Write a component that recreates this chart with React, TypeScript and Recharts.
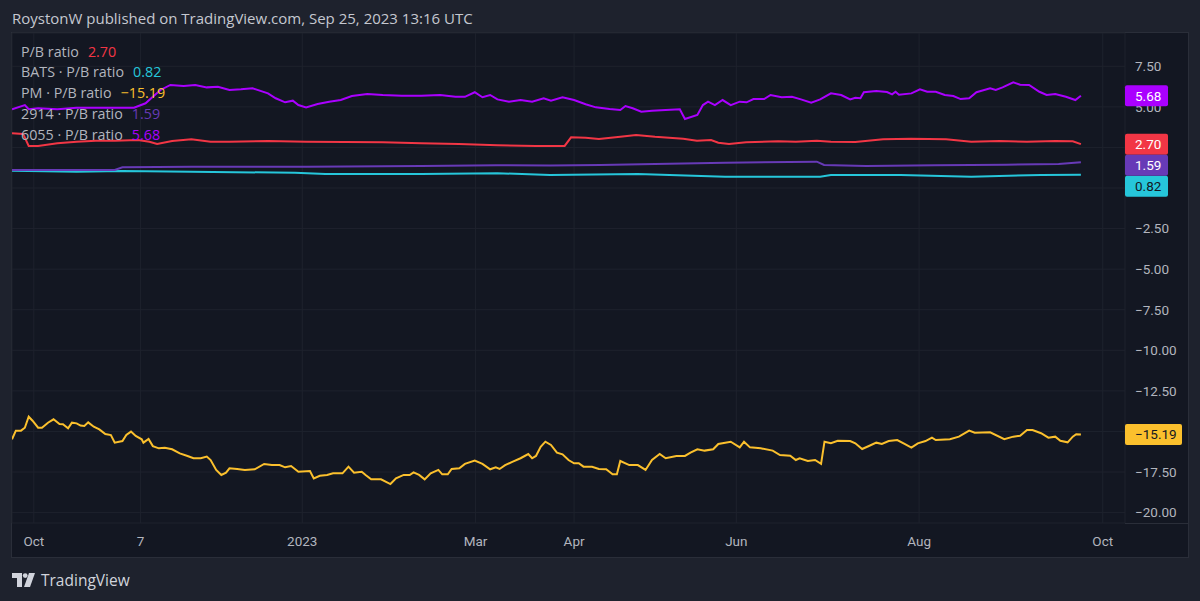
import { LineChart, Line, XAxis, YAxis, CartesianGrid, ReferenceDot } from "recharts";

// x = trading session counted from the left edge of the pane
const X_TICKS = [5.1, 30.0, 67.8, 108.3, 131.3, 169.2, 211.9, 254.8];
const X_TICK_LABELS = ["Oct", "7", "2023", "Mar", "Apr", "Jun", "Aug", "Oct"];
const Y_TICKS = [-20, -17.5, -15, -12.5, -10, -7.5, -5, -2.5, 0, 2.5, 5, 7.5];
const X_DOMAIN: [number, number] = [0, 260];
const Y_DOMAIN: [number, number] = [-20.64, 9.55];

// main symbol P/B ratio
const PB_X = [0, 2.6, 3.9, 6.1, 10.6, 15.1, 19.6, 24.0, 29.4, 32.1, 33.9, 37.4, 41.9, 46.4, 50.8, 59.8, 68.7, 77.7, 86.6, 95.6, 104.4, 113.4, 122.4, 129.1, 130.6, 134.0, 137.1, 142.1, 145.8, 150.2, 153.5, 156.8, 160.0, 163.3, 165.0, 167.5, 171.5, 179.0, 183.1, 188.0, 191.3, 197.0, 203.5, 210.0, 218.2, 224.1, 230.6, 237.1, 243.7, 247.8, 249.7];
const PB_VALUES = [3.37, 3.33, 2.59, 2.59, 2.75, 2.85, 2.91, 2.91, 2.96, 2.85, 2.71, 2.9, 3.0, 2.85, 2.85, 2.9, 2.85, 2.83, 2.82, 2.75, 2.71, 2.63, 2.59, 2.59, 3.12, 3.1, 3.02, 3.16, 3.27, 3.16, 3.1, 3.04, 2.91, 2.96, 2.79, 2.71, 2.82, 2.88, 2.85, 2.91, 2.85, 2.83, 3.0, 3.04, 3.0, 2.85, 2.9, 2.85, 2.9, 2.88, 2.7];

const BATS_X = [0, 15.1, 25.8, 41.9, 66.1, 73.2, 95.6, 113.4, 125.7, 146.2, 166.6, 188.8, 191.3, 207.6, 224.1, 240.4, 249.7];
const BATS_VALUES = [1.07, 1.0, 1.05, 1.0, 0.94, 0.86, 0.86, 0.91, 0.8, 0.86, 0.7, 0.7, 0.8, 0.8, 0.7, 0.8, 0.82];

const PM_X = [0, 0.9, 2.1, 3.0, 3.9, 4.8, 6.1, 7.0, 8.4, 9.7, 11.1, 11.9, 13.1, 14.0, 15.1, 16.0, 16.9, 17.8, 19.1, 20.4, 21.8, 23.1, 24.0, 25.8, 26.7, 27.8, 28.9, 30.3, 30.7, 31.9, 32.9, 34.3, 35.7, 37.4, 39.2, 41.0, 42.4, 44.1, 45.5, 46.4, 47.7, 48.9, 50.0, 50.8, 52.6, 54.4, 56.7, 58.9, 60.7, 62.5, 63.8, 65.2, 66.9, 69.6, 70.5, 71.9, 73.6, 75.0, 77.2, 78.6, 79.9, 81.7, 82.6, 83.9, 86.2, 88.4, 89.7, 91.5, 92.9, 93.8, 95.1, 96.4, 97.8, 99.6, 100.5, 101.8, 102.7, 104.5, 105.8, 108.1, 109.9, 111.7, 113.0, 113.9, 115.2, 117.0, 118.8, 120.6, 121.5, 122.4, 123.5, 124.6, 125.9, 127.3, 128.6, 130.0, 131.3, 132.4, 133.5, 135.5, 137.1, 138.8, 140.3, 141.3, 142.1, 144.2, 146.2, 148.0, 149.5, 151.3, 152.7, 155.2, 157.2, 158.5, 160.1, 161.8, 163.8, 165.0, 167.9, 170.0, 171.0, 172.4, 174.9, 177.7, 179.4, 181.8, 183.1, 184.0, 185.9, 187.6, 189.0, 189.8, 191.3, 192.9, 195.8, 197.0, 198.6, 200.3, 201.9, 203.2, 204.8, 206.8, 208.5, 210.1, 211.6, 213.4, 214.9, 215.8, 219.1, 221.2, 223.6, 224.9, 228.5, 231.8, 233.9, 235.5, 237.1, 238.4, 240.4, 242.1, 243.7, 244.9, 246.6, 247.8, 248.6, 249.7];
const PM_VALUES = [-15.48, -14.95, -14.95, -14.77, -14.09, -14.34, -14.77, -14.77, -14.46, -14.25, -14.54, -14.56, -14.8, -14.46, -14.5, -14.64, -14.66, -14.44, -14.71, -14.87, -15.16, -15.22, -15.69, -15.59, -15.22, -15.01, -15.28, -15.48, -15.69, -15.46, -15.9, -16.04, -16.0, -16.1, -16.35, -16.51, -16.65, -16.65, -16.55, -16.76, -17.37, -17.68, -17.54, -17.27, -17.31, -17.37, -17.33, -17.0, -17.07, -17.07, -17.21, -17.13, -17.48, -17.44, -17.89, -17.73, -17.68, -17.58, -17.58, -17.17, -17.54, -17.48, -17.68, -17.95, -17.95, -18.24, -17.89, -17.68, -17.68, -17.52, -17.68, -17.95, -17.58, -17.37, -17.64, -17.64, -17.31, -17.27, -17.0, -16.8, -17.0, -17.33, -17.21, -17.31, -17.07, -16.86, -16.65, -16.39, -16.65, -16.51, -15.94, -15.63, -15.83, -16.31, -16.41, -16.76, -16.96, -16.96, -17.17, -17.17, -17.31, -17.33, -17.64, -17.64, -16.82, -17.07, -17.07, -17.37, -16.76, -16.39, -16.65, -16.51, -16.51, -16.31, -16.1, -16.18, -16.1, -15.77, -15.63, -15.98, -15.63, -15.98, -16.04, -16.18, -16.45, -16.49, -16.76, -16.65, -16.82, -16.76, -17.0, -15.63, -15.73, -15.57, -15.59, -15.73, -16.08, -15.88, -15.69, -15.77, -15.59, -15.53, -15.77, -16.0, -15.73, -15.59, -15.38, -15.53, -15.48, -15.32, -14.95, -15.08, -15.05, -15.48, -15.32, -15.26, -14.91, -14.91, -15.11, -15.38, -15.32, -15.57, -15.67, -15.32, -15.17, -15.19];

const JT_X = [0, 24.0, 25.8, 41.9, 68.7, 95.6, 113.4, 125.7, 137.4, 150.2, 166.6, 188.0, 189.7, 199.5, 215.8, 232.2, 244.5, 249.7];
const JT_VALUES = [1.11, 1.11, 1.28, 1.31, 1.31, 1.36, 1.4, 1.39, 1.42, 1.48, 1.56, 1.62, 1.42, 1.36, 1.4, 1.44, 1.48, 1.59];

const JMC_X = [0, 3.0, 3.9, 6.1, 10.6, 15.1, 19.6, 24.0, 28.5, 31.2, 32.9, 34.7, 37.0, 40.1, 42.8, 45.5, 48.1, 50.8, 53.5, 56.2, 59.8, 61.6, 63.8, 65.6, 66.9, 68.7, 71.4, 74.1, 76.8, 79.4, 83.0, 86.6, 91.1, 95.6, 100.0, 103.6, 105.8, 108.1, 109.9, 111.7, 113.4, 116.1, 118.8, 121.5, 124.2, 125.9, 128.6, 131.3, 134.0, 136.4, 139.6, 142.1, 143.3, 145.0, 147.0, 149.5, 152.7, 156.0, 157.2, 160.1, 161.4, 162.6, 164.2, 166.0, 167.9, 170.0, 171.6, 173.2, 175.7, 177.2, 179.8, 182.2, 184.3, 186.7, 188.8, 191.3, 193.7, 195.8, 197.0, 198.2, 199.0, 201.9, 204.4, 205.6, 206.4, 207.2, 210.1, 212.1, 213.8, 215.8, 217.9, 219.9, 221.6, 223.6, 225.3, 228.5, 229.8, 231.4, 233.9, 235.5, 237.6, 240.0, 241.7, 243.7, 246.2, 248.4, 249.7];
const JMC_VALUES = [4.85, 5.11, 4.85, 4.91, 4.85, 4.95, 4.95, 4.95, 4.95, 5.22, 5.62, 6.04, 6.35, 6.28, 6.35, 6.2, 6.24, 6.04, 6.08, 6.14, 5.83, 5.53, 5.28, 5.38, 5.11, 4.97, 5.18, 5.32, 5.42, 5.67, 5.79, 5.73, 5.69, 5.69, 5.73, 5.62, 5.62, 5.9, 5.59, 5.73, 5.46, 5.32, 5.42, 5.32, 5.53, 5.38, 5.59, 5.42, 5.16, 4.97, 4.87, 4.81, 5.05, 4.91, 4.7, 4.76, 4.81, 4.85, 4.25, 4.5, 5.11, 5.32, 5.11, 5.42, 5.11, 5.32, 5.28, 5.48, 5.48, 5.73, 5.59, 5.62, 5.46, 5.26, 5.46, 5.83, 5.73, 5.46, 5.56, 5.53, 5.9, 5.98, 5.91, 5.77, 5.93, 5.75, 5.83, 6.08, 5.93, 5.93, 5.73, 5.67, 5.48, 5.53, 5.9, 6.14, 6.04, 6.2, 6.51, 6.36, 6.35, 5.93, 5.73, 5.79, 5.62, 5.42, 5.68];

const zip = (xs: number[], ys: number[]) => xs.map((x, i) => ({ x, v: ys[i] }));

const SERIES = [
  { key: "pb", label: "P/B ratio", color: "#f23645", tagText: "#ffffff", xs: PB_X, ys: PB_VALUES },
  { key: "bats", label: "BATS · P/B ratio", color: "#26c6da", tagText: "#131722", xs: BATS_X, ys: BATS_VALUES },
  { key: "pm", label: "PM · P/B ratio", color: "#fbc02d", tagText: "#131722", xs: PM_X, ys: PM_VALUES },
  { key: "jt", label: "2914 · P/B ratio", color: "#673ab7", tagText: "#ffffff", xs: JT_X, ys: JT_VALUES },
  { key: "jmc", label: "6055 · P/B ratio", color: "#aa00ff", tagText: "#ffffff", xs: JMC_X, ys: JMC_VALUES },
];

const fmt = (v: number) => (v < 0 ? "\u2212" : "") + Math.abs(v).toFixed(2);

const W = 1200;
const H = 601;
const M = { top: 33, right: 12, bottom: 44, left: 12 };
const Y_AXIS_W = 63;
const X_AXIS_H = 34;
const PLOT_H = H - M.top - M.bottom - X_AXIS_H;
const TAG_H = 21;
const AXIS_FONT = "Roboto, sans-serif";
const TEXT_FONT = "'Open Sans', sans-serif";

// push overlapping price tags downward, like the price scale does
function tagShifts() {
  const pxPerUnit = PLOT_H / (Y_DOMAIN[1] - Y_DOMAIN[0]);
  const order = SERIES.map((s, i) => ({ i, v: s.ys[s.ys.length - 1] })).sort((a, b) => b.v - a.v);
  const shifts: number[] = new Array(SERIES.length).fill(0);
  let prevBottom = -Infinity;
  for (const o of order) {
    const natural = (Y_DOMAIN[1] - o.v) * pxPerUnit;
    const center = Math.max(natural, prevBottom + TAG_H / 2);
    shifts[o.i] = center - natural;
    prevBottom = center + TAG_H / 2;
  }
  return shifts;
}

function PriceTag(props: any) {
  const { cx, cy, text, fill, textColor, shift } = props;
  const w = 15 + text.length * 7;
  const y = cy + shift;
  return (
    <g>
      <rect x={cx} y={y - TAG_H / 2} width={w} height={TAG_H} rx={2} fill={fill} />
      <text x={cx + 10} y={y} dy="0.35em" fontSize={13.5} fontFamily={AXIS_FONT} fill={textColor}>
        {text}
      </text>
    </g>
  );
}

function Logo() {
  return (
    <svg width={24} height={14} viewBox="0 0 24 14">
      <path d="M0 0h10v14H5V5H0z" fill="#d1d4dc" />
      <circle cx={13.2} cy={2.6} r={2.4} fill="#d1d4dc" />
      <path d="M17 0h6l-5 14h-6z" fill="#d1d4dc" />
    </svg>
  );
}

export default function App() {
  const shifts = tagShifts();
  return (
    <div style={{ position: "relative", width: W, height: H, background: "#1e222d", overflow: "hidden", fontFamily: TEXT_FONT }}>
      <style>{"body{margin:0}"}</style>
      <div
        style={{
          position: "absolute",
          left: 11,
          top: 32,
          width: 1178,
          height: 526,
          boxSizing: "border-box",
          border: "1px solid #2a2e39",
          background: "#131722",
        }}
      />
      <div style={{ position: "absolute", left: 1125, top: 523, width: 63, height: 1, background: "#2a2e39" }} />

      <LineChart width={W} height={H} margin={M} style={{ position: "absolute", left: 0, top: 0 }}>
        <CartesianGrid stroke="#1e222d" strokeWidth={1} />
        <XAxis
          dataKey="x"
          type="number"
          domain={X_DOMAIN}
          ticks={X_TICKS}
          interval={0}
          allowDataOverflow
          height={X_AXIS_H}
          axisLine={false}
          tickLine={false}
          tickSize={0}
          tickMargin={13}
          tick={{ fill: "#b2b5be", fontSize: 13.5, fontFamily: AXIS_FONT }}
          tickFormatter={(_v: number, i: number) => X_TICK_LABELS[i]}
        />
        <YAxis
          orientation="right"
          type="number"
          domain={Y_DOMAIN}
          ticks={Y_TICKS}
          interval={0}
          allowDataOverflow
          width={Y_AXIS_W}
          axisLine={false}
          tickLine={false}
          tickSize={0}
          tickMargin={10}
          tick={{ fill: "#b2b5be", fontSize: 13.5, fontFamily: AXIS_FONT, textAnchor: "start" }}
          tickFormatter={(v: number) => fmt(v)}
        />
        {SERIES.map((s) => (
          <Line
            key={s.key}
            data={zip(s.xs, s.ys)}
            dataKey="v"
            type="linear"
            stroke={s.color}
            strokeWidth={2}
            dot={false}
            activeDot={false}
            isAnimationActive={false}
          />
        ))}
      </LineChart>

      {/* price scale tags: same geometry, drawn above the axis labels */}
      <LineChart
        width={W}
        height={H}
        margin={{ top: M.top, left: M.left, right: M.right + Y_AXIS_W, bottom: M.bottom + X_AXIS_H }}
        style={{ position: "absolute", left: 0, top: 0 }}
      >
        <XAxis type="number" dataKey="x" domain={X_DOMAIN} allowDataOverflow hide />
        <YAxis type="number" domain={Y_DOMAIN} allowDataOverflow hide />
        {SERIES.map((s, i) => {
          const last = s.ys[s.ys.length - 1];
          return (
            <ReferenceDot
              key={"tag-" + s.key}
              x={X_DOMAIN[1]}
              y={last}
              ifOverflow="visible"
              shape={(p: any) => (
                <PriceTag cx={p.cx} cy={p.cy} text={fmt(last)} fill={s.color} textColor={s.tagText} shift={shifts[i]} />
              )}
            />
          );
        })}
      </LineChart>

      <div style={{ position: "absolute", left: 12, top: 9, fontSize: 15, lineHeight: "18px", color: "#c5c8d0" }}>
        RoystonW published on TradingView.com, Sep 25, 2023 13:16 UTC
      </div>

      <div style={{ position: "absolute", left: 21, top: 41.5 }}>
        {SERIES.map((s) => (
          <div key={s.key} style={{ height: 20.8, lineHeight: "20.8px", fontSize: 14.3, color: "#b2b5be", whiteSpace: "pre" }}>
            {s.label}
            <span style={{ color: s.color, marginLeft: 9 }}>{fmt(s.ys[s.ys.length - 1])}</span>
          </div>
        ))}
      </div>

      <div style={{ position: "absolute", left: 12, top: 571, display: "flex", alignItems: "center", gap: 5 }}>
        <Logo />
        <span style={{ fontSize: 15.5, fontWeight: 500, color: "#d1d4dc", lineHeight: "18px" }}>TradingView</span>
      </div>
    </div>
  );
}
